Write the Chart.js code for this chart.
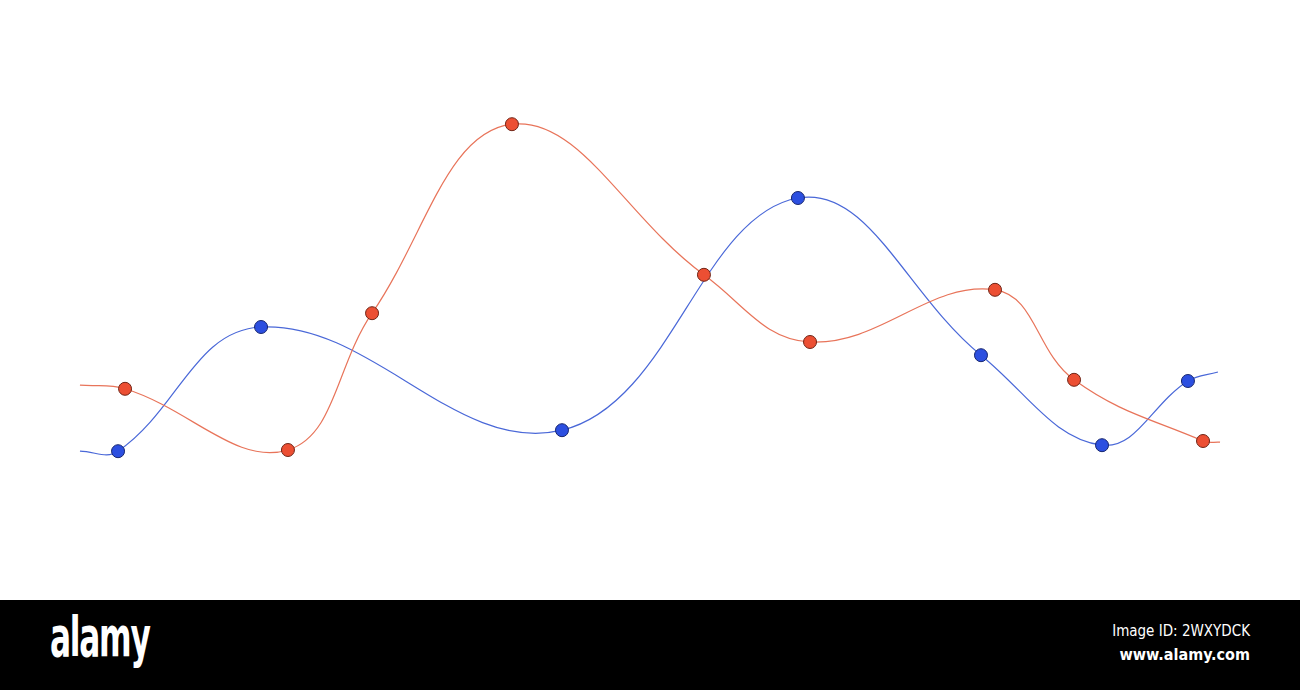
<!DOCTYPE html>
<html>
<head>
<meta charset="utf-8">
<script src="https://cdn.jsdelivr.net/npm/chart.js@4.4.1/dist/chart.umd.min.js"></script>
<style>
  html, body { margin: 0; padding: 0; background: #fff; width: 1300px; height: 690px; overflow: hidden; }
  #wrap { position: absolute; left: 0; top: 0; width: 1300px; height: 600px; }
  #footer { position: absolute; left: 0; top: 600px; width: 1300px; height: 90px; background: #000; }
  #logo { position: absolute; left: 50px; top: 604px; font-size: 56px; font-weight: bold; letter-spacing: -2px; transform: scaleX(0.62); transform-origin: left top; font-family: "DejaVu Sans Condensed", "Liberation Sans Narrow", sans-serif; color: #fff; }
  #imgid { position: absolute; right: 50px; top: 622px; font-size: 15px; font-family: "DejaVu Sans Condensed", sans-serif; color: #fff; }
  #url { position: absolute; right: 50px; top: 645px; font-size: 16px; font-weight: bold; font-family: "DejaVu Sans Condensed", sans-serif; color: #fff; }
</style>
</head>
<body>
<div id="wrap"><canvas id="c" width="1300" height="600"></canvas></div>
<div id="footer"></div>
<div id="logo">alamy</div>
<div id="imgid">Image ID: 2WXYDCK</div>
<div id="url">www.alamy.com</div>
<script>
// Blue series (x, y) in arbitrary units; first/last entries are curve ends without markers
const blueX = [6.15, 9.08, 20.08, 43.23, 61.38, 75.46, 84.77, 91.38, 93.69];
const blueY = [24.8, 24.8, 45.5, 28.3, 67.0, 40.8, 25.8, 36.5, 38.0];
// Red series
const redX = [6.15, 9.62, 22.15, 28.62, 39.38, 54.15, 62.31, 76.54, 82.62, 92.54, 93.85];
const redY = [35.8, 35.2, 25.0, 47.8, 79.3, 54.2, 43.0, 51.7, 36.7, 26.5, 26.3];

function pts(xs, ys) { return xs.map((x, i) => ({ x: x, y: ys[i] })); }
function radii(n) { return Array.from({ length: n }, (_, i) => (i === 0 || i === n - 1) ? 0 : 6.5); }

new Chart(document.getElementById('c'), {
  type: 'line',
  data: {
    datasets: [
      {
        label: 'Red',
        data: pts(redX, redY),
        borderColor: '#e8745a',
        borderWidth: 1.2,
        backgroundColor: '#ec4f33',
        pointBackgroundColor: '#ec4f33',
        pointBorderColor: '#6e2416',
        pointBorderWidth: 1,
        pointRadius: radii(redX.length),
        pointHoverRadius: radii(redX.length),
        tension: 0.4,
        fill: false
      },
      {
        label: 'Blue',
        data: pts(blueX, blueY),
        borderColor: '#4a68d8',
        borderWidth: 1.2,
        backgroundColor: '#2c4fe0',
        pointBackgroundColor: '#2c4fe0',
        pointBorderColor: '#17266e',
        pointBorderWidth: 1,
        pointRadius: radii(blueX.length),
        pointHoverRadius: radii(blueX.length),
        tension: 0.4,
        fill: false
      }
    ]
  },
  options: {
    responsive: false,
    animation: false,
    layout: { padding: 0 },
    plugins: { legend: { display: false }, tooltip: { enabled: false } },
    events: [],
    scales: {
      x: { type: 'linear', min: 0, max: 100, display: false },
      y: { type: 'linear', min: 0, max: 100, display: false }
    }
  }
});
</script>
</body>
</html>
